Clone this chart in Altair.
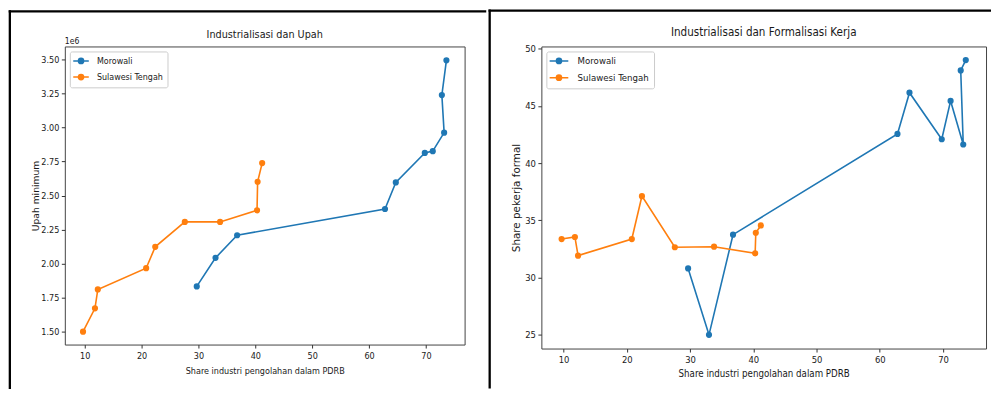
import altair as alt
import pandas as pd

# ---------------- data ----------------
series = ["Morowali", "Sulawesi Tengah"]
colors = ["#1f77b4", "#ff7f0e"]

share_morowali = [29.7, 33.0, 36.8, 62.8, 64.7, 69.8, 71.2, 73.2, 72.8, 73.6]
share_sulteng = [9.7, 11.8, 12.3, 20.8, 22.4, 27.6, 33.8, 40.3, 40.4, 41.2]

upah_morowali = [1832000, 2042000, 2208000, 2401000, 2596000, 2813000, 2826000, 2962000, 3238000, 3493000]
upah_sulteng = [1500000, 1671000, 1810000, 1966000, 2123000, 2306000, 2306000, 2391000, 2601000, 2738000]

formal_morowali = [30.8, 25.0, 33.75, 42.56, 46.16, 42.09, 45.44, 41.63, 48.11, 49.01]
formal_sulteng = [33.37, 33.55, 31.92, 33.37, 37.12, 32.65, 32.70, 32.12, 33.92, 34.56]

x_ticks = [10, 20, 30, 40, 50, 60, 70]
upah_ticks = [1500000, 1750000, 2000000, 2250000, 2500000, 2750000, 3000000, 3250000, 3500000]
formal_ticks = [25, 30, 35, 40, 45, 50]

x_title = "Share industri pengolahan dalam PDRB"
title_left = "Industrialisasi dan Upah"
title_right = "Industrialisasi dan Formalisasi Kerja"
ytitle_left = "Upah minimum"
ytitle_right = "Share pekerja formal"
offset_label = "1e6"

rows = []
for i in range(len(share_morowali)):
    rows.append({"series": series[0], "idx": i, "share": share_morowali[i],
                 "upah": upah_morowali[i], "formal": formal_morowali[i]})
for i in range(len(share_sulteng)):
    rows.append({"series": series[1], "idx": i, "share": share_sulteng[i],
                 "upah": upah_sulteng[i], "formal": formal_sulteng[i]})
df = pd.DataFrame(rows)
one = pd.DataFrame({"k": [0]})

COND = "DejaVu Sans Condensed, DejaVu Sans, sans-serif"
REG = "DejaVu Sans, sans-serif"
TXT = "#1a1a1a"
BAR = 2.3  # thickness of the black outer frame


def legend_path(half):
    # horizontal line plus a solid dot built from concentric stroked circles
    p = f"M-{half},0H{half}"
    for r in (0.65, 0.38, 0.12):
        p += f"M{r},0A{r},{r},0,1,1,-{r},0A{r},{r},0,1,1,{r},0"
    return p


def panel(ycol, ydomain, yticks, ylabel_expr, ytitle, title, W, H, fs, leg, frame, extra=None):
    cscale = alt.Scale(domain=series, range=colors)
    xenc = alt.X("share:Q", scale=alt.Scale(domain=[6.5, 76.8], nice=False, zero=False),
                 axis=alt.Axis(values=x_ticks, format="d", tickSize=3.5, labelPadding=3,
                               tickColor="#333333", domain=False, grid=False,
                               labelFont=COND, labelFontSize=fs["tick"], labelColor=TXT,
                               title=x_title, titleFont=COND, titleFontSize=fs["axis"],
                               titleFontWeight="normal", titleColor=TXT,
                               titleY=fs["xtitleY"], titleBaseline="middle"))
    yaxis = dict(values=yticks, tickSize=3.5, labelPadding=2.5, tickColor="#333333",
                 domain=False, grid=False, labelFont=COND, labelFontSize=fs["tick"],
                 labelColor=TXT, title=ytitle, titleFont=REG, titleFontSize=fs["ytitle"],
                 titleFontWeight="normal", titleColor=TXT, titleX=fs["ytitleX"],
                 titleY=H / 2, titleBaseline="middle")
    if ylabel_expr:
        yaxis["labelExpr"] = ylabel_expr
    yenc = alt.Y(f"{ycol}:Q", scale=alt.Scale(domain=ydomain, nice=False, zero=False),
                 axis=alt.Axis(**yaxis))

    legend = alt.Legend(title=None, orient="top-left", offset=leg["offset"], padding=4.5,
                        fillColor="white", strokeColor="#cccccc", cornerRadius=2,
                        symbolType=legend_path(leg["half"]), symbolSize=64, symbolStrokeWidth=1.5,
                        symbolOffset=leg["symOff"], labelOffset=leg["labOff"],
                        rowPadding=leg["rowPad"], labelFont=COND, labelFontSize=fs["legend"],
                        labelColor=TXT)

    base = alt.Chart(df)
    line = base.mark_line(strokeWidth=1.6).encode(
        x=xenc, y=yenc,
        color=alt.Color("series:N", scale=cscale, legend=legend),
        order="idx:Q")
    pts = base.mark_point(filled=True, size=22, opacity=1, strokeWidth=1.5, shape="circle").encode(
        x=xenc, y=yenc,
        color=alt.Color("series:N", scale=cscale, legend=None),
        stroke=alt.Stroke("series:N", scale=alt.Scale(domain=series, range=colors), legend=None))

    # black outer frame drawn as thin filled bars (exact bounds)
    fx, fy, fx2, fy2 = frame["vx"], frame["top"], frame["hx2"], frame["bottom"]
    top_bar = alt.Chart(one).mark_rect(color="black", strokeWidth=0).encode(
        x=alt.value(fx), x2=alt.value(fx2), y=alt.value(fy), y2=alt.value(fy + BAR))
    v_bar = alt.Chart(one).mark_rect(color="black", strokeWidth=0).encode(
        x=alt.value(fx), x2=alt.value(fx + BAR), y=alt.value(fy), y2=alt.value(fy2))

    layers = [line, pts, top_bar, v_bar]
    if extra is not None:
        layers.append(extra)
    return alt.layer(*layers).properties(
        width=W, height=H,
        title=alt.TitleParams(text=title, frame="group", anchor="middle", offset=fs["toff"],
                              baseline="alphabetic", font=COND, fontSize=fs["title"],
                              fontWeight="normal", color=TXT))


e6 = alt.Chart(one).mark_text(text=offset_label, align="left", baseline="alphabetic",
                              font=COND, fontSize=8.6, color=TXT).encode(
    x=alt.value(0), y=alt.value(-2.6))

left = panel("upah", [1405000, 3595000], upah_ticks, "format(datum.value / 1000000, '.2f')",
             ytitle_left, title_left, 401, 299,
             fs=dict(tick=9.0, axis=9.0, ytitle=9.2, legend=8.9, title=10.8,
                     xtitleY=25.7, ytitleX=-29.8, toff=-38.5),
             leg=dict(offset=4.5, symOff=1.75, labOff=11, rowPad=4.2, half=1.95),
             frame=dict(vx=-56.3, top=-36.3, hx2=422.7, bottom=343.7),
             extra=e6)

right = panel("formal", [23.8, 50.2], formal_ticks, None,
              ytitle_right, title_right, 446, 303,
              fs=dict(tick=9.4, axis=9.7, ytitle=10.4, legend=9.6, title=11.6,
                      xtitleY=25, ytitleX=-25, toff=-38.5),
              leg=dict(offset=4.5, symOff=3.15, labOff=13.7, rowPad=4.8, half=2.34),
              frame=dict(vx=-53, top=-37, hx2=451, bottom=343))

chart = alt.hconcat(left, right, spacing=0).properties(padding=0).resolve_scale(
    color="independent", stroke="independent").resolve_legend(
    color="independent", stroke="independent").configure(
    background="white", font=COND).configure_view(stroke="#444444", strokeWidth=1)

chart.save("out.html", embed_options={"renderer": "svg", "actions": False})
